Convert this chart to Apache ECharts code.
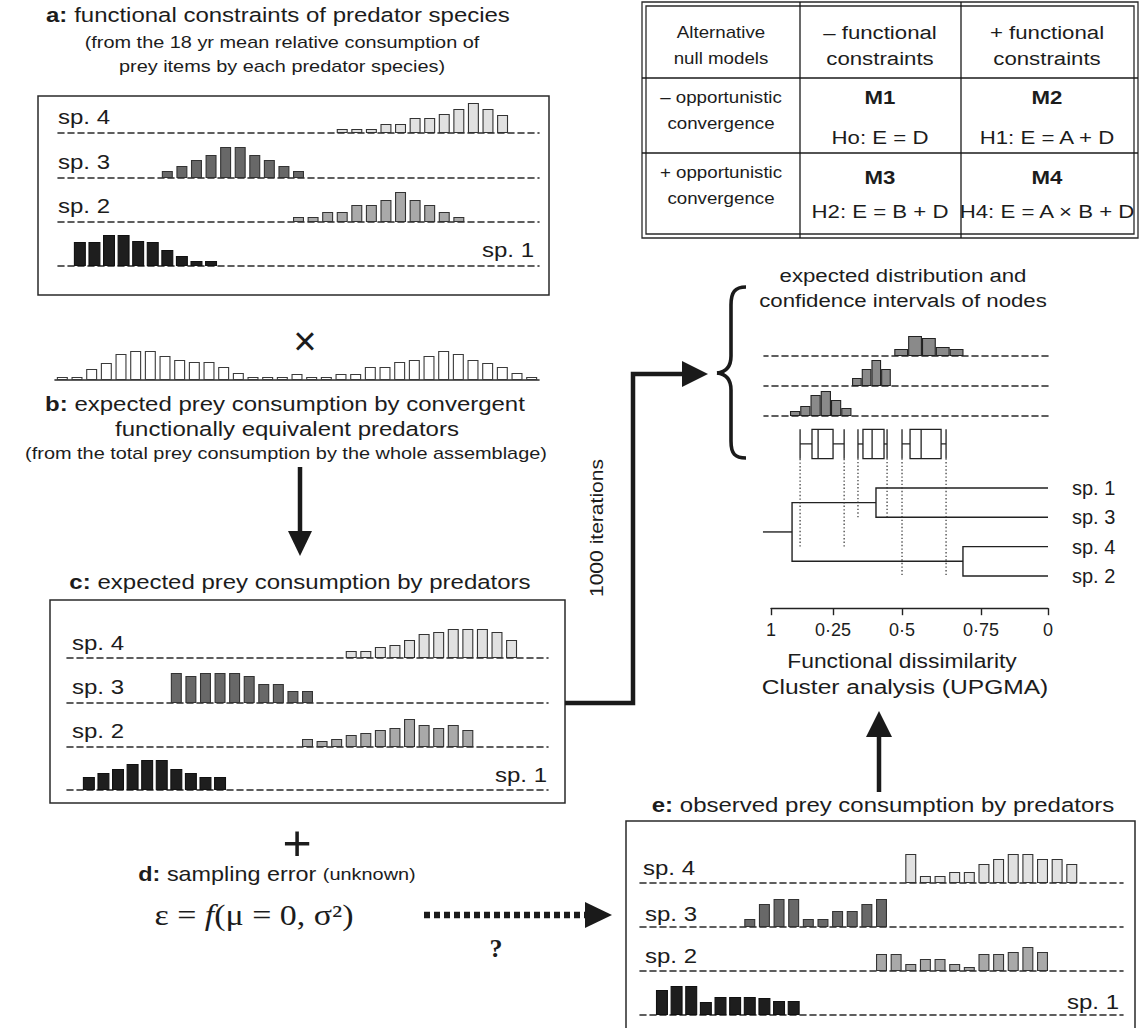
<!DOCTYPE html>
<html><head><meta charset="utf-8">
<script src="https://cdn.jsdelivr.net/npm/echarts@6/dist/echarts.min.js"></script>
<style>html,body{margin:0;padding:0;background:#fff}#c{width:1144px;height:1028px}</style>
</head><body><div id="c"></div>
<script>
// ---------- DATA ----------
const preyItems = ['1','2','3','4','5','6','7','8','9','10','11','12','13','14','15','16','17','18','19','20','21','22','23','24','25','26','27','28','29','30','31','32','33'];
// a: functional constraints (mean relative consumption), first prey index + values
const aSp1 = [24,24,31,31,25,24,16,10,5,5];        const aSp1Start = 1;
const aSp2 = [5,5,10,10,17,17,22,30,22,17,10,5];   const aSp2Start = 16;
const aSp3 = [7,12,18,23,31,31,23,18,12,7];        const aSp3Start = 7;
const aSp4 = [4,4,4,9,9,15,15,19,24,30,24,18];     const aSp4Start = 19;
// b: total prey consumption by the whole assemblage
const bTotal = [3,3,11,17,26,29,29,24,20,18,18,13,7,3,3,3,6,3,3,6,6,13,13,18,20,24,29,26,20,17,13,7,3];
// c: expected prey consumption by predators
const cSp1 = [13,17,21,26,30,30,21,17,13,13];      const cSp1Start = 1;
const cSp2 = [8,6,8,12,14,17,19,28,22,19,22,17];   const cSp2Start = 16;
const cSp3 = [30,27,30,30,30,27,19,19,12,12];      const cSp3Start = 7;
const cSp4 = [7,7,11,13,18,24,26,29,29,29,26,18];  const cSp4Start = 19;
// e: observed prey consumption by predators
const eSp1 = [25,29,29,13,18,18,18,17,14,14];      const eSp1Start = 1;
const eSp2 = [17,17,7,12,12,7,4,17,17,19,24,19];   const eSp2Start = 16;
const eSp3 = [8,23,28,28,8,8,16,16,23,28];         const eSp3Start = 7;
const eSp4 = [29,7,7,11,11,19,24,29,29,24,24,19];  const eSp4Start = 18;
// expected distributions of node heights (functional dissimilarity bins)
const hist1Bins = [0.53,0.48,0.43,0.38,0.33];          const hist1Counts = [7,20,18,9,7];     const hist1BinWidth = 0.05;
const hist2Bins = [0.69,0.655,0.62,0.585];             const hist2Counts = [8,17,26,17];      const hist2BinWidth = 0.035;
const hist3Bins = [0.913,0.876,0.839,0.802,0.765,0.728]; const hist3Counts = [5,10,21,25,16,8]; const hist3BinWidth = 0.037;
// confidence intervals of nodes: [low, q1, median, q3, high]
const nodeBoxes = [[0.736,0.776,0.830,0.852,0.895],[0.581,0.592,0.635,0.668,0.686],[0.368,0.386,0.458,0.498,0.527]];
const nodeBoxLink = [3.0, 2.0, 3.97];
// dendrogram (UPGMA)
const leafNames = ['sp. 1','sp. 3','sp. 4','sp. 2'];
const leafPos = [1,2,3,4];
const mergeSp1Sp3 = 0.621, mergeSp4Sp2 = 0.307, mergeRoot = 0.924, rootStem = 1.029;
// dissimilarity axis
const dissimTickPos = [1, 0.776, 0.527, 0.242, 0];
const dissimTickLabels = ['1','0·25','0·5','0·75','0'];

// ---------- STYLE ----------
const FONT = '"Liberation Sans", Arial, Helvetica, sans-serif';
const SERIF = '"Liberation Serif", "Times New Roman", serif';
const INK = '#1c1c1c';
const SX = 1.17;
const COL = {sp1:'#1e1e1e', sp2:'#a9a9a9', sp3:'#686868', sp4:'#e1e1e1'};

function pad(vals, start){ const d = preyItems.map(()=>'-'); vals.forEach((v,i)=>{ d[start+i]=v; }); return d; }

const grids = [], xAxes = [], yAxes = [], series = [];
function mini(left, width, baseline, vals, start, color, border, solid){
  const gi = grids.length;
  grids.push({left:left, top:baseline-32, width:width, height:32});
  xAxes.push({type:'category', gridIndex:gi, data:preyItems, boundaryGap:true,
    axisLine:{show:true, lineStyle:{color:'#2a2a2a', width:1.6, type: solid ? 'solid' : [6,4]}},
    axisTick:{show:false}, axisLabel:{show:false}, splitLine:{show:false}});
  yAxes.push({type:'value', gridIndex:gi, min:0, max:32, show:false});
  series.push({type:'bar', xAxisIndex:gi, yAxisIndex:gi, data: pad(vals,start), barWidth: color===COL.sp1 ? 12 : 11,
    itemStyle:{color:color, borderColor:border, borderWidth:1.1}, silent:true, z:3});
}
// panel a
mini(58, 481, 133, aSp4, aSp4Start, COL.sp4, '#333');
mini(58, 481, 178, aSp3, aSp3Start, COL.sp3, '#333');
mini(58, 481, 222, aSp2, aSp2Start, COL.sp2, '#333');
mini(58, 481, 266, aSp1, aSp1Start, COL.sp1, '#111');
// panel b
mini(55, 484, 380, bTotal, 0, '#ffffff', '#3a3a3a', true);
// panel c
mini(67, 481, 658, cSp4, cSp4Start, COL.sp4, '#333');
mini(67, 481, 703, cSp3, cSp3Start, COL.sp3, '#333');
mini(67, 481, 747, cSp2, cSp2Start, COL.sp2, '#333');
mini(67, 481, 790, cSp1, cSp1Start, COL.sp1, '#111');
// panel e
mini(640, 483, 883, eSp4, eSp4Start, COL.sp4, '#333');
mini(640, 483, 927, eSp3, eSp3Start, COL.sp3, '#333');
mini(640, 483, 971, eSp2, eSp2Start, COL.sp2, '#333');
mini(640, 483, 1015, eSp1, eSp1Start, COL.sp1, '#111');

// histograms of node heights
const PXPERUNIT = 277;
function hist(baseline, bins, counts, bw){
  const gi = grids.length;
  grids.push({left:764, top:baseline-28, width:284, height:28});
  xAxes.push({type:'value', gridIndex:gi, min:0, max:1.0253, inverse:true,
    axisLine:{show:true, onZero:false, lineStyle:{color:'#2a2a2a', width:1.6, type:[6,4]}},
    axisTick:{show:false}, axisLabel:{show:false}, splitLine:{show:false}});
  yAxes.push({type:'value', gridIndex:gi, min:0, max:28, show:false});
  series.push({type:'bar', xAxisIndex:gi, yAxisIndex:gi, data: bins.map((b,i)=>[b,counts[i]]),
    barWidth: bw*PXPERUNIT, itemStyle:{color:'#8a8a8a', borderColor:'#222', borderWidth:1.1}, silent:true, z:3});
}
hist(356, hist1Bins, hist1Counts, hist1BinWidth);
hist(386, hist2Bins, hist2Counts, hist2BinWidth);
hist(416, hist3Bins, hist3Counts, hist3BinWidth);

// dendrogram grid
const gD = grids.length;
grids.push({left:771, top:429.3, width:277, height:178.9});
xAxes.push({type:'value', gridIndex:gD, min:0, max:1, inverse:true,
  axisLine:{show:true, onZero:false, lineStyle:{color:'#222', width:1.4}},
  axisTick:{show:true, customValues:dissimTickPos, length:7, lineStyle:{color:'#222', width:1.4}},
  axisLabel:{show:true, customValues:dissimTickPos, margin:13, fontSize:18, fontFamily:FONT, color:INK,
    formatter:function(v){ let k=0, best=9; dissimTickPos.forEach((p,i)=>{ if(Math.abs(p-v)<best){best=Math.abs(p-v);k=i;} }); return dissimTickLabels[k]; }},
  splitLine:{show:false}});
yAxes.push({type:'value', gridIndex:gD, min:-1, max:5.1, inverse:true, position:'right',
  axisLine:{show:false}, axisTick:{show:false}, splitLine:{show:false},
  axisLabel:{show:true, customValues:leafPos, margin:24, fontSize:20, fontFamily:FONT, color:INK,
    formatter:function(v){ return leafNames[Math.round(v)-1] || ''; }}});
series.push({type:'lines', coordinateSystem:'cartesian2d', xAxisIndex:gD, yAxisIndex:gD, polyline:true, clip:false, silent:true,
  lineStyle:{color:'#222', width:1.4, opacity:1},
  data:[
    {coords:[[0,leafPos[0]],[mergeSp1Sp3,leafPos[0]],[mergeSp1Sp3,leafPos[1]],[0,leafPos[1]]]},
    {coords:[[0,leafPos[2]],[mergeSp4Sp2,leafPos[2]],[mergeSp4Sp2,leafPos[3]],[0,leafPos[3]]]},
    {coords:[[mergeSp1Sp3,(leafPos[0]+leafPos[1])/2],[mergeRoot,(leafPos[0]+leafPos[1])/2],[mergeRoot,(leafPos[2]+leafPos[3])/2],[mergeSp4Sp2,(leafPos[2]+leafPos[3])/2]]},
    {coords:[[mergeRoot,(leafPos[1]+leafPos[2])/2],[rootStem,(leafPos[1]+leafPos[2])/2]]}
  ]});
series.push({type:'custom', coordinateSystem:'cartesian2d', xAxisIndex:gD, yAxisIndex:gD, silent:true, clip:false,
  data: nodeBoxes.map((b,i)=>b.concat([nodeBoxLink[i]])),
  encode:{x:[0,1,2,3,4], y:5},
  renderItem:function(params, api){
    const X = v => api.coord([v,0])[0];
    const yT = api.coord([0,-1])[1], yB = api.coord([0,0])[1], yM = (yT+yB)/2, yE = api.coord([0,api.value(5)])[1];
    const lo=X(api.value(0)), q1=X(api.value(1)), md=X(api.value(2)), q3=X(api.value(3)), hi=X(api.value(4));
    const st = {stroke:'#222', lineWidth:1.3, fill:null};
    const dot = {stroke:'#333', lineWidth:1.2, lineDash:[1.4,2.2], fill:null};
    return {type:'group', children:[
      {type:'line', shape:{x1:lo,y1:yE,x2:lo,y2:yB}, style:dot},
      {type:'line', shape:{x1:hi,y1:yE,x2:hi,y2:yB}, style:dot},
      {type:'line', shape:{x1:lo,y1:yM,x2:hi,y2:yM}, style:st},
      {type:'line', shape:{x1:lo,y1:yT,x2:lo,y2:yB}, style:st},
      {type:'line', shape:{x1:hi,y1:yT,x2:hi,y2:yB}, style:st},
      {type:'rect', shape:{x:Math.min(q1,q3), y:yT, width:Math.abs(q3-q1), height:yB-yT}, style:{stroke:'#222', lineWidth:1.3, fill:'#fff'}},
      {type:'line', shape:{x1:md,y1:yT,x2:md,y2:yB}, style:st}
    ]};
  }});

// ---------- GRAPHIC (text, frames, arrows) ----------
function T(x, y, text, size, o){
  o = o || {};
  return {type:'text', x:x, y:y, rotation:o.rot||0, scaleX:(o.sx===undefined?SX:o.sx), z:20, silent:true,
    style:{text:text, fontSize:size, fontFamily:o.family||FONT, fontWeight:o.weight||'normal', fontStyle:o.italic?'italic':'normal',
      fill:INK, textAlign:o.align||'center', textVerticalAlign:'middle', align:o.align||'center', verticalAlign:'middle', rich:o.rich}};
}
function rect(x,y,w,h,lw){ return {type:'rect', shape:{x:x,y:y,width:w,height:h}, z:5, silent:true, style:{fill:null, stroke:'#2a2a2a', lineWidth:lw||1.5}}; }
function pl(pts, lw, dash){ return {type:'polyline', shape:{points:pts}, z:5, silent:true, style:{fill:null, stroke:'#1a1a1a', lineWidth:lw, lineDash:dash||null}}; }
function tri(pts){ return {type:'polygon', shape:{points:pts}, z:5, silent:true, style:{fill:'#1a1a1a', stroke:null}}; }
function bz(x1,y1,c1x,c1y,c2x,c2y,x2,y2){ return {type:'bezierCurve', shape:{x1:x1,y1:y1,cpx1:c1x,cpy1:c1y,cpx2:c2x,cpy2:c2y,x2:x2,y2:y2}, z:5, silent:true, style:{fill:null, stroke:'#1a1a1a', lineWidth:3.6}}; }
const bold = (s)=>({b:{fontWeight:'bold', fontSize:s, fontFamily:FONT, fill:INK}, n:{fontSize:s, fontFamily:FONT, fill:INK}});

const g = [];
// panel a
g.push(T(278, 15, '{b|a:}{n| functional constraints of predator species}', 20.5, {rich:bold(20.5)}));
g.push(T(282, 42, '(from the 18 yr mean relative consumption of', 17));
g.push(T(282, 66, 'prey items by each predator species)', 17));
g.push(rect(38, 96, 511, 199));
g.push(T(58, 117, 'sp. 4', 20.5, {align:'left'}));
g.push(T(58, 162, 'sp. 3', 20.5, {align:'left'}));
g.push(T(58, 206, 'sp. 2', 20.5, {align:'left'}));
g.push(T(534, 250, 'sp. 1', 20.5, {align:'right'}));
// panel b
g.push(T(305, 341, '×', 40, {sx:1}));
g.push(T(285, 404, '{b|b:}{n| expected prey consumption by convergent}', 20.5, {rich:bold(20.5)}));
g.push(T(287, 429, 'functionally equivalent predators', 20.5));
g.push(T(286, 453, '(from the total prey consumption by the whole assemblage)', 17));
g.push(pl([[300,467],[300,535]], 4.5));
g.push(tri([[288,531],[312,531],[300,556]]));
// panel c
g.push(T(300, 582, '{b|c:}{n| expected prey consumption by predators}', 20.5, {rich:bold(20.5)}));
g.push(rect(50, 600, 515, 203));
g.push(T(72, 643, 'sp. 4', 20.5, {align:'left'}));
g.push(T(72, 687, 'sp. 3', 20.5, {align:'left'}));
g.push(T(72, 731, 'sp. 2', 20.5, {align:'left'}));
g.push(T(547, 775, 'sp. 1', 20.5, {align:'right'}));
// plus, panel d
g.push(T(297, 843, '+', 50, {sx:1}));
g.push(T(277, 874, '{b|d:}{n| sampling error }{s|(unknown)}', 20, {rich:{b:{fontWeight:'bold',fontSize:20,fontFamily:FONT,fill:INK}, n:{fontSize:20,fontFamily:FONT,fill:INK}, s:{fontSize:17,fontFamily:FONT,fill:INK}}}));
g.push(T(254, 915, '{n|ε = }{i|f}{n|(μ = 0, σ²)}', 29, {rich:{n:{fontSize:29, fontFamily:SERIF, fill:INK}, i:{fontSize:29, fontFamily:SERIF, fontStyle:'italic', fill:INK}}}));
g.push(pl([[424,915],[586,915]], 6.5, [6,4]));
g.push(tri([[585,902],[612,915],[585,928]]));
g.push(T(496, 948, '?', 26, {sx:1, weight:'bold', family:SERIF}));
// iteration arrow
g.push(pl([[565,703],[633,703],[633,374],[684,374]], 4.5));
g.push(tri([[682,361],[708,374],[682,387]]));
g.push(T(597, 528, '1000 iterations', 18, {rot:Math.PI/2}));
// brace
g.push(bz(746,287, 735,287, 731,292, 731,305));
g.push(pl([[731,305],[731,356]], 3.6));
g.push(bz(731,356, 731,366, 726,372, 717,373));
g.push(bz(717,373, 726,374, 731,380, 731,390));
g.push(pl([[731,390],[731,441]], 3.6));
g.push(bz(731,441, 731,454, 735,458, 746,458));
// table
g.push(rect(642, 2, 496, 236, 1.3));
g.push(rect(646, 6, 488, 228, 1.3));
g.push(pl([[800,2],[800,238]], 1.3));
g.push(pl([[961,2],[961,238]], 1.3));
g.push(pl([[642,78],[1138,78]], 1.3));
g.push(pl([[642,153],[1138,153]], 1.3));
g.push(T(721, 32, 'Alternative', 16));
g.push(T(721, 58, 'null models', 16));
g.push(T(880, 32, '– functional', 19));
g.push(T(880, 58, 'constraints', 19));
g.push(T(1047, 32, '+ functional', 19));
g.push(T(1047, 58, 'constraints', 19));
g.push(T(721, 97, '– opportunistic', 16));
g.push(T(721, 123, 'convergence', 16));
g.push(T(880, 97, 'M1', 19, {weight:'bold'}));
g.push(T(880, 137, 'Ho: E = D', 19));
g.push(T(1047, 97, 'M2', 19, {weight:'bold'}));
g.push(T(1047, 137, 'H1: E = A + D', 19));
g.push(T(721, 172, '+ opportunistic', 16));
g.push(T(721, 198, 'convergence', 16));
g.push(T(880, 177, 'M3', 19, {weight:'bold'}));
g.push(T(880, 211, 'H2: E = B + D', 19));
g.push(T(1047, 177, 'M4', 19, {weight:'bold'}));
g.push(T(1047, 211, 'H4: E = A × B + D', 19));
// node distributions text
g.push(T(903, 275, 'expected distribution and', 19));
g.push(T(903, 300, 'confidence intervals of nodes', 19));
// cluster axis titles
g.push(T(902, 661, 'Functional dissimilarity', 19.5));
g.push(T(905, 687, 'Cluster analysis (UPGMA)', 21));
g.push(pl([[879,792],[879,735]], 4.5));
g.push(tri([[866,737],[892,737],[879,711]]));
// panel e
g.push(T(883, 805, '{b|e:}{n| observed prey consumption by predators}', 20.5, {rich:bold(20.5)}));
g.push(rect(626, 821, 509, 230));
g.push(T(643, 868, 'sp. 4', 20.5, {align:'left'}));
g.push(T(645, 914, 'sp. 3', 20.5, {align:'left'}));
g.push(T(645, 956, 'sp. 2', 20.5, {align:'left'}));
g.push(T(1119, 1002, 'sp. 1', 20.5, {align:'right'}));

const chart = echarts.init(document.getElementById('c'), null, {renderer:'svg'});
chart.setOption({
  animation:false, backgroundColor:'#ffffff',
  grid:grids, xAxis:xAxes, yAxis:yAxes, series:series, graphic:{elements:g}
});
</script></body></html>
